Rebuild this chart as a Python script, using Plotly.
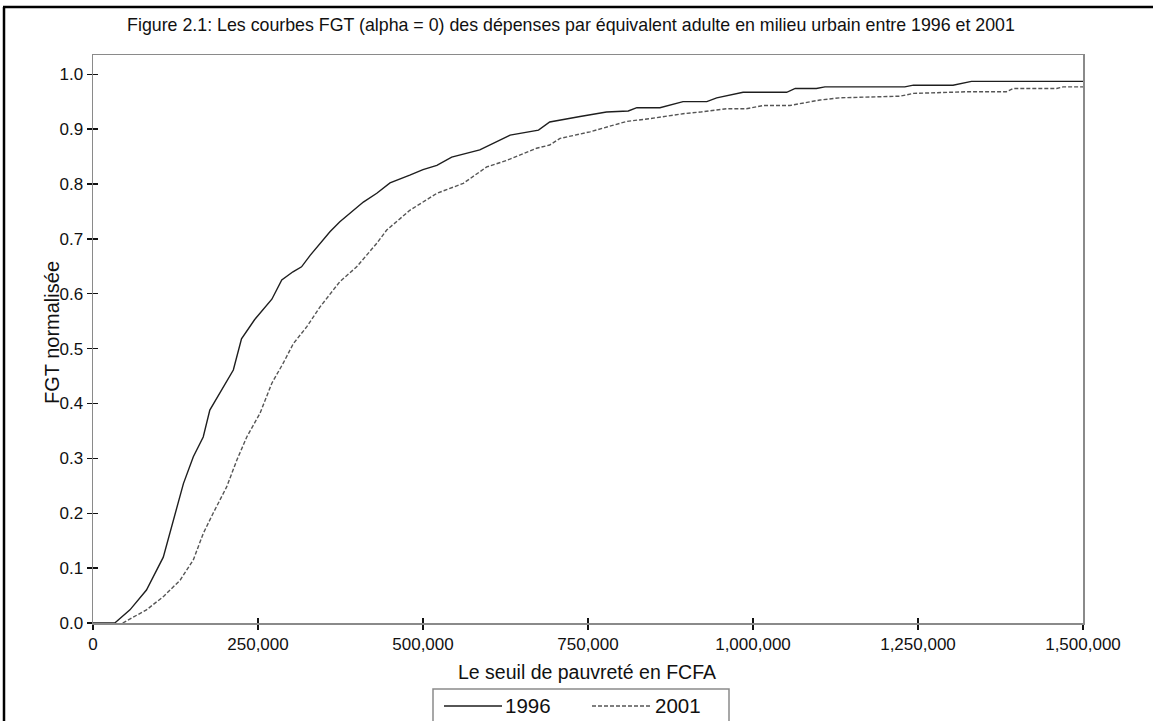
import plotly.graph_objects as go

# ---- data ----
x_1996 = [0, 33000, 56000, 81000, 106500, 122000, 137000, 152000, 167000, 177000, 192000,
          212600, 225000, 245000, 271000, 286000, 303000, 316000, 329000, 359000, 374000,
          409600, 430000, 450000, 480000, 500000, 521000, 543500, 586000, 606500, 632000,
          675000, 692000, 738000, 778000, 811000, 824000, 859000, 894000, 930000, 945000,
          985000, 1051000, 1064000, 1096000, 1109000, 1230000, 1243000, 1303000, 1331000,
          1500000]
y_1996 = [0.0, 0.0, 0.024, 0.060, 0.120, 0.188, 0.254, 0.303, 0.339, 0.388, 0.418,
          0.461, 0.518, 0.553, 0.590, 0.625, 0.640, 0.649, 0.670, 0.713, 0.731,
          0.767, 0.783, 0.802, 0.816, 0.826, 0.834, 0.849, 0.862, 0.874, 0.889,
          0.898, 0.913, 0.923, 0.931, 0.933, 0.939, 0.939, 0.950, 0.950, 0.957,
          0.967, 0.967, 0.974, 0.974, 0.977, 0.977, 0.980, 0.980, 0.987,
          0.987]

x_2001 = [45000, 81000, 106500, 132000, 152000, 167000, 182000, 202500, 218000, 233000,
          253000, 271000, 288000, 303500, 324000, 344000, 374000, 399500, 430000, 445000,
          480000, 521000, 561000, 596500, 627000, 672000, 692000, 707600, 753000, 798000,
          808600, 844000, 894000, 920000, 960000, 990000, 1015600, 1056000, 1101500,
          1132000, 1223000, 1243000, 1323500, 1384000, 1394000, 1460000, 1470000, 1500000]
y_2001 = [0.0, 0.024, 0.048, 0.078, 0.115, 0.163, 0.200, 0.248, 0.297, 0.339,
          0.382, 0.437, 0.473, 0.509, 0.540, 0.576, 0.622, 0.649, 0.692, 0.716,
          0.752, 0.783, 0.801, 0.831, 0.843, 0.865, 0.871, 0.883, 0.895, 0.910,
          0.914, 0.919, 0.928, 0.931, 0.937, 0.937, 0.943, 0.943, 0.953,
          0.957, 0.960, 0.965, 0.968, 0.968, 0.974, 0.974, 0.977, 0.977]

x_ticks = [0, 250000, 500000, 750000, 1000000, 1250000, 1500000]
x_tick_labels = ["0", "250,000", "500,000", "750,000", "1,000,000", "1,250,000", "1,500,000"]
y_ticks = [0.0, 0.1, 0.2, 0.3, 0.4, 0.5, 0.6, 0.7, 0.8, 0.9, 1.0]
y_tick_labels = ["0.0", "0.1", "0.2", "0.3", "0.4", "0.5", "0.6", "0.7", "0.8", "0.9", "1.0"]

series_names = ["1996", "2001"]
title_text = "Figure 2.1: Les courbes FGT (alpha = 0) des dépenses par équivalent adulte en milieu urbain entre 1996 et 2001"
x_title = "Le seuil de pauvreté en FCFA"
y_title = "FGT normalisée"

# ---- layout geometry (pixels) ----
W, H = 1153, 721
L, R, T, B = 93, 1083, 55, 623
FONT = "Liberation Sans, Arial, sans-serif"
TXT = "#111111"
SOLID_COLOR = "#1e1e1e"
DASH_COLOR = "#555555"
FRAME = "#8a8a8a"
DASH = "4px,2px"


def px(xp):
    return (xp - L) / (R - L)


def py(yp):
    return (B - yp) / (B - T)


fig = go.Figure()
fig.add_trace(go.Scatter(x=x_1996, y=y_1996, mode="lines", name=series_names[0],
                         line=dict(color=SOLID_COLOR, width=1.4), showlegend=False))
fig.add_trace(go.Scatter(x=x_2001, y=y_2001, mode="lines", name=series_names[1],
                         line=dict(color=DASH_COLOR, width=1.4, dash=DASH), showlegend=False))

axis_common = dict(showgrid=False, zeroline=False)
fig.update_layout(
    width=W, height=H,
    margin=dict(l=L, r=W - R, t=T, b=H - B, pad=0),
    paper_bgcolor="white", plot_bgcolor="white",
    font=dict(family=FONT, color=TXT),
    title=dict(text=title_text, x=571 / W, xanchor="center", xref="container",
               y=1 - 25 / H, yanchor="middle", yref="container",
               font=dict(family=FONT, size=17.8, color=TXT)),
    xaxis=dict(range=[0, 1500000], tickvals=x_ticks, ticktext=x_tick_labels,
               ticks="outside", ticklen=5, tickwidth=1.3, tickcolor=TXT,
               showline=True, linecolor=FRAME, linewidth=1.5, mirror=True,
               tickfont=dict(family=FONT, size=17, color=TXT), **axis_common),
    yaxis=dict(range=[0, 1.035], tickvals=y_ticks, ticktext=y_tick_labels,
               ticks="outside", ticklen=5, tickwidth=1.3, tickcolor=TXT,
               showline=True, linecolor=FRAME, linewidth=1.5, mirror=True,
               tickfont=dict(family=FONT, size=17, color=TXT), **axis_common),
    xaxis2=dict(overlaying="x", matches="x", range=[0, 1500000], tickvals=x_ticks,
                ticks="inside", ticklen=5, tickwidth=1.3, tickcolor=TXT,
                showticklabels=False, showline=False, anchor="y", side="bottom", **axis_common),
    yaxis2=dict(overlaying="y", matches="y", range=[0, 1.035], tickvals=y_ticks,
                ticks="inside", ticklen=5, tickwidth=1.3, tickcolor=TXT,
                showticklabels=False, showline=False, anchor="x", side="left", **axis_common),
)
# invisible trace to activate the secondary (inside-tick) axes
fig.add_trace(go.Scatter(x=[None], y=[None], xaxis="x2", yaxis="y2", showlegend=False,
                         hoverinfo="skip"))

annotations = [
    dict(text=x_title, x=px(586.7), y=py(671.7), xref="paper", yref="paper",
         xanchor="center", yanchor="middle", showarrow=False,
         font=dict(family=FONT, size=19.5, color=TXT)),
    dict(text=y_title, x=px(52), y=py(333), xref="paper", yref="paper",
         xanchor="center", yanchor="middle", textangle=-90, showarrow=False,
         font=dict(family=FONT, size=20, color=TXT)),
    dict(text=series_names[0], x=px(504), y=py(705.5), xref="paper", yref="paper",
         xanchor="left", yanchor="middle", showarrow=False, borderpad=0,
         font=dict(family=FONT, size=20.5, color=TXT)),
    dict(text=series_names[1], x=px(654), y=py(705.5), xref="paper", yref="paper",
         xanchor="left", yanchor="middle", showarrow=False, borderpad=0,
         font=dict(family=FONT, size=20.5, color=TXT)),
]

shapes = [
    # outer figure border (top and left)
    dict(type="line", xref="paper", yref="paper", x0=px(3), x1=px(1153), y0=py(7), y1=py(7),
         line=dict(color="black", width=2.5)),
    dict(type="line", xref="paper", yref="paper", x0=px(4), x1=px(4), y0=py(7), y1=py(730),
         line=dict(color="black", width=2.5)),
    # legend box
    dict(type="rect", xref="paper", yref="paper", x0=px(433), x1=px(729), y0=py(689), y1=py(740),
         line=dict(color=FRAME, width=1.5), fillcolor="rgba(0,0,0,0)"),
    # legend samples
    dict(type="line", xref="paper", yref="paper", x0=px(444), x1=px(502), y0=py(706), y1=py(706),
         line=dict(color=SOLID_COLOR, width=1.4)),
    dict(type="line", xref="paper", yref="paper", x0=px(592), x1=px(652), y0=py(706), y1=py(706),
         line=dict(color=DASH_COLOR, width=1.4, dash=DASH)),
]

fig.update_layout(annotations=annotations, shapes=shapes)
fig.write_html(
    "out.html",
    config={"displayModeBar": False, "staticPlot": True},
    post_script="document.body.style.margin='0';document.body.style.overflow='hidden';",
)
